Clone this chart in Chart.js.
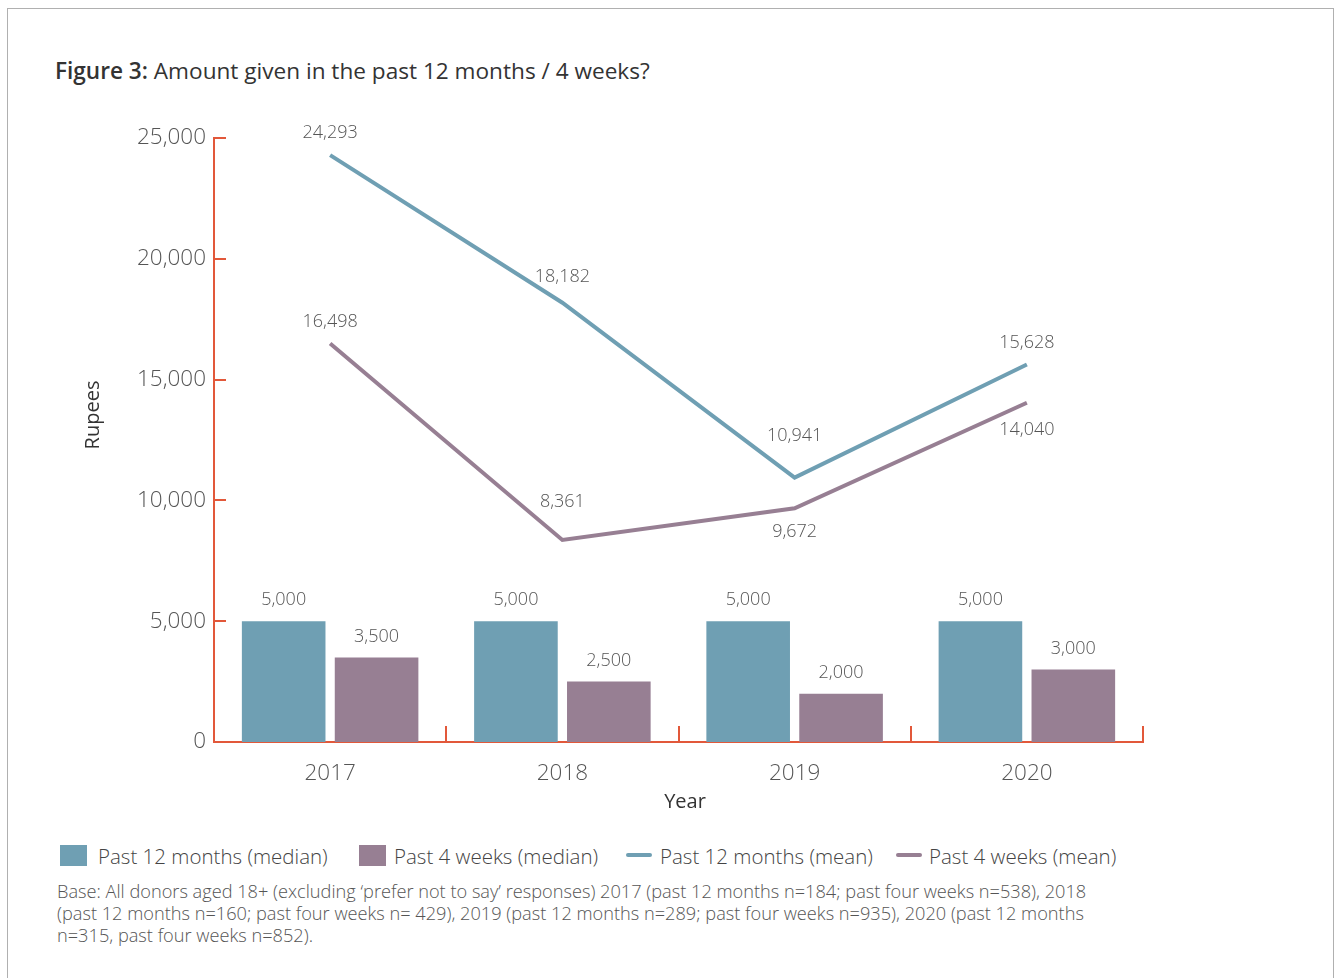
<!DOCTYPE html>
<html>
<head>
<meta charset="utf-8">
<script src="https://cdn.jsdelivr.net/npm/chart.js@4.4.1/dist/chart.umd.min.js"></script>
<style>
  html, body { margin: 0; padding: 0; background: #fff; }
  body { width: 1340px; height: 978px; position: relative; overflow: hidden; font-family: "Open Sans", sans-serif; }
  .frame { position: absolute; left: 7px; top: 8px; width: 1325px; height: 1000px; border: 1px solid #b0b0b0; border-bottom: none; }
  .title { position: absolute; left: 55px; top: 55px; font-size: 22.6px; color: #333; }
  .title b { font-weight: 600; }
  #wrap { position: absolute; left: 0; top: 0; width: 1340px; height: 830px; }
  .legend { position: absolute; top: 842px; left: 0; font-size: 20.5px; color: #444; font-weight: 300; }
  .legend span { position: absolute; white-space: nowrap; top: 0; }
  .sw { position: absolute; }
  .base { position: absolute; left: 57px; top: 880px; width: 1045px; font-size: 18.2px; line-height: 22px; color: #555; font-weight: 300; }
</style>
</head>
<body>
<div class="frame"></div>
<div class="title"><b>Figure 3:</b> Amount given in the past 12 months / 4 weeks?</div>
<div id="wrap"><canvas id="grafico"></canvas></div>
<div class="legend" id="legenda"></div>
<div class="base">Base: All donors aged 18+ (excluding ‘prefer not to say’ responses) 2017 (past 12 months n=184; past four weeks n=538), 2018 (past 12 months n=160; past four weeks n= 429), 2019 (past 12 months n=289; past four weeks n=935), 2020 (past 12 months n=315, past four weeks n=852).</div>
<script>
// dados do gráfico
const anos = ['2017', '2018', '2019', '2020'];
const mediana12m = [5000, 5000, 5000, 5000];
const mediana4s = [3500, 2500, 2000, 3000];
const media12m = [24293, 18182, 10941, 15628];
const media4s = [16498, 8361, 9672, 14040];
const yTicks = [0, 5000, 10000, 15000, 20000, 25000];

// deslocamento dos rótulos das linhas (negativo = acima)
const offs12m = [-22, -26, -42, -22];
const offs4s = [-22, -38, 24, 27];

const azul = '#6f9fb3';
const roxo = '#977f93';
const laranja = '#e2583a';
const fmt = v => v.toLocaleString('en-US');

// rótulos de valores
const rotulos = {
    id: 'rotulos',
    afterDatasetsDraw(chart) {
        const ctx = chart.ctx;
        ctx.save();
        ctx.font = '300 18px "Open Sans"';
        ctx.fillStyle = '#555';
        ctx.textAlign = 'center';
        ctx.textBaseline = 'middle';
        chart.data.datasets.forEach((ds, i) => {
            const meta = chart.getDatasetMeta(i);
            meta.data.forEach((el, j) => {
                let y;
                if (ds.type === 'bar') y = el.y - 21;
                else y = el.y + ds.offs[j];
                ctx.fillText(fmt(ds.data[j]), el.x, y);
            });
        });
        ctx.restore();
    }
};

// marcas dos eixos e títulos
const eixos = {
    id: 'eixos',
    afterDraw(chart) {
        const ctx = chart.ctx;
        const a = chart.chartArea;
        const y = chart.scales.y;
        ctx.save();
        ctx.strokeStyle = laranja;
        ctx.lineWidth = 2;
        ctx.beginPath();
        yTicks.forEach(v => {
            const py = Math.round(y.getPixelForValue(v));
            ctx.moveTo(a.left, py);
            ctx.lineTo(a.left + 12, py);
        });
        const w = (a.right - a.left) / anos.length;
        for (let i = 1; i <= anos.length; i++) {
            const px = Math.round(a.left + w * i);
            ctx.moveTo(px, a.bottom);
            ctx.lineTo(px, a.bottom - 16);
        }
        ctx.stroke();
        ctx.fillStyle = '#333';
        ctx.font = '20px "Open Sans"';
        ctx.textAlign = 'center';
        ctx.textBaseline = 'middle';
        ctx.fillText('Year', 685, 802);
        ctx.translate(93, 415);
        ctx.rotate(-Math.PI / 2);
        ctx.fillText('Rupees', 0, 0);
        ctx.restore();
    }
};

new Chart(document.getElementById('grafico'), {
    data: {
        labels: anos,
        datasets: [
            { type: 'line', label: 'Past 12 months (mean)', data: media12m, offs: offs12m, borderColor: azul, borderWidth: 4, pointRadius: 0, tension: 0, order: 0 },
            { type: 'line', label: 'Past 4 weeks (mean)', data: media4s, offs: offs4s, borderColor: roxo, borderWidth: 4, pointRadius: 0, tension: 0, order: 0 },
            { type: 'bar', label: 'Past 12 months (median)', data: mediana12m, backgroundColor: azul, categoryPercentage: 0.8, barPercentage: 0.9, order: 1 },
            { type: 'bar', label: 'Past 4 weeks (median)', data: mediana4s, backgroundColor: roxo, categoryPercentage: 0.8, barPercentage: 0.9, order: 1 }
        ]
    },
    options: {
        responsive: true,
        maintainAspectRatio: false,
        animation: false,
        layout: { padding: { left: 0, top: 138, right: 197, bottom: 0 } },
        plugins: { legend: { display: false }, tooltip: { enabled: false } },
        scales: {
            x: {
                offset: true,
                grid: { display: false, drawTicks: false },
                border: { display: true, color: laranja, width: 2 },
                ticks: { color: '#555', font: { family: 'Open Sans', size: 22.5, weight: 300 }, padding: 18 },
                afterFit: s => { s.height = 88; }
            },
            y: {
                min: 0, max: 25000,
                afterBuildTicks: s => { s.ticks = yTicks.map(v => ({ value: v })); },
                grid: { display: false, drawTicks: false },
                border: { display: true, color: laranja, width: 2 },
                ticks: { color: '#555', font: { family: 'Open Sans', size: 22.5, weight: 300 }, padding: 8, callback: v => fmt(v) },
                afterFit: s => { s.width = 214; }
            }
        }
    },
    plugins: [rotulos, eixos]
});

// legenda
const legenda = document.getElementById('legenda');
[
    { txt: 'Past 12 months (median)', cor: azul, tipo: 'box', x: 60, tx: 98 },
    { txt: 'Past 4 weeks (median)', cor: roxo, tipo: 'box', x: 359, tx: 394 },
    { txt: 'Past 12 months (mean)', cor: azul, tipo: 'line', x: 626, tx: 660 },
    { txt: 'Past 4 weeks (mean)', cor: roxo, tipo: 'line', x: 896, tx: 929 }
].forEach(item => {
    const sw = document.createElement('div');
    sw.className = 'sw';
    if (item.tipo === 'box') {
        sw.style.cssText = `left:${item.x}px;top:3px;width:27px;height:21px;background:${item.cor};`;
    } else {
        sw.style.cssText = `left:${item.x}px;top:11px;width:26px;height:4px;border-radius:2px;background:${item.cor};`;
    }
    legenda.appendChild(sw);
    const sp = document.createElement('span');
    sp.style.left = item.tx + 'px';
    sp.textContent = item.txt;
    legenda.appendChild(sp);
});
</script>
</body>
</html>
